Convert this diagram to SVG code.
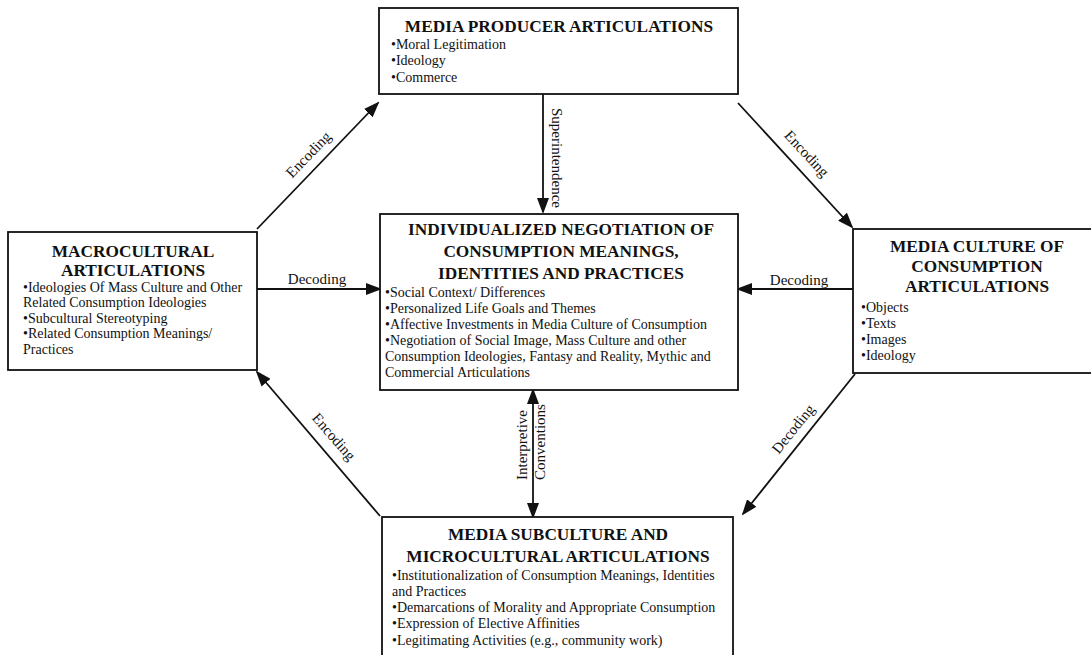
<svg xmlns="http://www.w3.org/2000/svg" width="1091" height="655" viewBox="0 0 1091 655">
<style>
.box{fill:#fff;stroke:#111;stroke-width:1.8}
.t{font-family:"Liberation Serif","Times New Roman",serif;font-weight:bold;font-size:17.3px;fill:#111;text-anchor:middle}
.b{font-family:"Liberation Serif","Times New Roman",serif;font-size:14px;fill:#111}
.l{font-family:"Liberation Serif","Times New Roman",serif;font-size:15px;fill:#111;text-anchor:middle}
.c{stroke:#111;stroke-width:1.8;fill:none}
</style>
<defs>
<marker id="ah" markerWidth="16" markerHeight="12" refX="14" refY="6" orient="auto-start-reverse" markerUnits="userSpaceOnUse">
<path d="M0,0 L16,6 L0,12 Z" fill="#111"/>
</marker>
</defs>
<rect width="1091" height="655" fill="#fff"/>
<g id="connectors">
<line class="c" x1="257" y1="229" x2="378" y2="103" marker-end="url(#ah)"/>
<line class="c" x1="738" y1="103" x2="852" y2="227" marker-end="url(#ah)"/>
<line class="c" x1="380" y1="516" x2="257" y2="372" marker-end="url(#ah)"/>
<line class="c" x1="855" y1="374" x2="743" y2="514" marker-end="url(#ah)"/>
<line class="c" x1="257" y1="289" x2="380" y2="289" marker-end="url(#ah)"/>
<line class="c" x1="853" y1="289" x2="738" y2="289" marker-end="url(#ah)"/>
<line class="c" x1="543" y1="94" x2="543" y2="212" marker-end="url(#ah)"/>
<line class="c" x1="533" y1="390" x2="533" y2="517" marker-start="url(#ah)" marker-end="url(#ah)"/>
<text class="l" transform="translate(312,158) rotate(-46)">Encoding</text>
<text class="l" transform="translate(803,157) rotate(47)">Encoding</text>
<text class="l" transform="translate(330,440) rotate(49)">Encoding</text>
<text class="l" transform="translate(797,432) rotate(-51)">Decoding</text>
<text class="l" x="317" y="284">Decoding</text>
<text class="l" x="799" y="285">Decoding</text>
<text class="l" transform="translate(552,158) rotate(90)">Superintendence</text>
<text class="l" transform="translate(527,445) rotate(-90)">Interpretive</text>
<text class="l" transform="translate(545,442) rotate(-90)">Conventions</text>
</g>
<g id="producer">
<rect class="box" x="379" y="8" width="359" height="86"/>
<text class="t" x="559" y="32">MEDIA PRODUCER ARTICULATIONS</text>
<text class="b" x="391" y="49">•Moral Legitimation</text>
<text class="b" x="391" y="65">•Ideology</text>
<text class="b" x="391" y="82">•Commerce</text>
</g>
<g id="macro">
<rect class="box" x="8" y="232" width="249" height="138"/>
<text class="t" x="133" y="257">MACROCULTURAL</text>
<text class="t" x="133" y="276">ARTICULATIONS</text>
<text class="b" x="23" y="292">•Ideologies Of Mass Culture and Other</text>
<text class="b" x="23" y="307">Related Consumption Ideologies</text>
<text class="b" x="23" y="323">•Subcultural Stereotyping</text>
<text class="b" x="23" y="338">•Related Consumption Meanings/</text>
<text class="b" x="23" y="354">Practices</text>
</g>
<g id="individual">
<rect class="box" x="380" y="214" width="358" height="176"/>
<text class="t" x="561" y="235">INDIVIDUALIZED NEGOTIATION OF</text>
<text class="t" x="561" y="257">CONSUMPTION MEANINGS,</text>
<text class="t" x="561" y="279">IDENTITIES AND PRACTICES</text>
<text class="b" x="385" y="297">•Social Context/ Differences</text>
<text class="b" x="385" y="313">•Personalized Life Goals and Themes</text>
<text class="b" x="385" y="329">•Affective Investments in Media Culture of Consumption</text>
<text class="b" x="385" y="345">•Negotiation of Social Image, Mass Culture and other</text>
<text class="b" x="385" y="361">Consumption  Ideologies, Fantasy and Reality, Mythic and</text>
<text class="b" x="385" y="377">Commercial Articulations</text>
</g>
<g id="mediaculture">
<rect class="box" x="853" y="229" width="250" height="144"/>
<text class="t" x="977" y="252">MEDIA CULTURE OF</text>
<text class="t" x="977" y="272">CONSUMPTION</text>
<text class="t" x="977" y="292">ARTICULATIONS</text>
<text class="b" x="861" y="312">•Objects</text>
<text class="b" x="861" y="328">•Texts</text>
<text class="b" x="861" y="344">•Images</text>
<text class="b" x="861" y="360">•Ideology</text>
</g>
<g id="subculture">
<rect class="box" x="382" y="517" width="351" height="150"/>
<text class="t" x="558" y="540">MEDIA SUBCULTURE  AND</text>
<text class="t" x="558" y="562">MICROCULTURAL ARTICULATIONS</text>
<text class="b" x="392" y="580">•Institutionalization of Consumption Meanings, Identities</text>
<text class="b" x="392" y="596">and Practices</text>
<text class="b" x="392" y="612">•Demarcations of Morality and Appropriate Consumption</text>
<text class="b" x="392" y="628">•Expression of Elective Affinities</text>
<text class="b" x="392" y="645">•Legitimating Activities (e.g., community work)</text>
</g>
</svg>
